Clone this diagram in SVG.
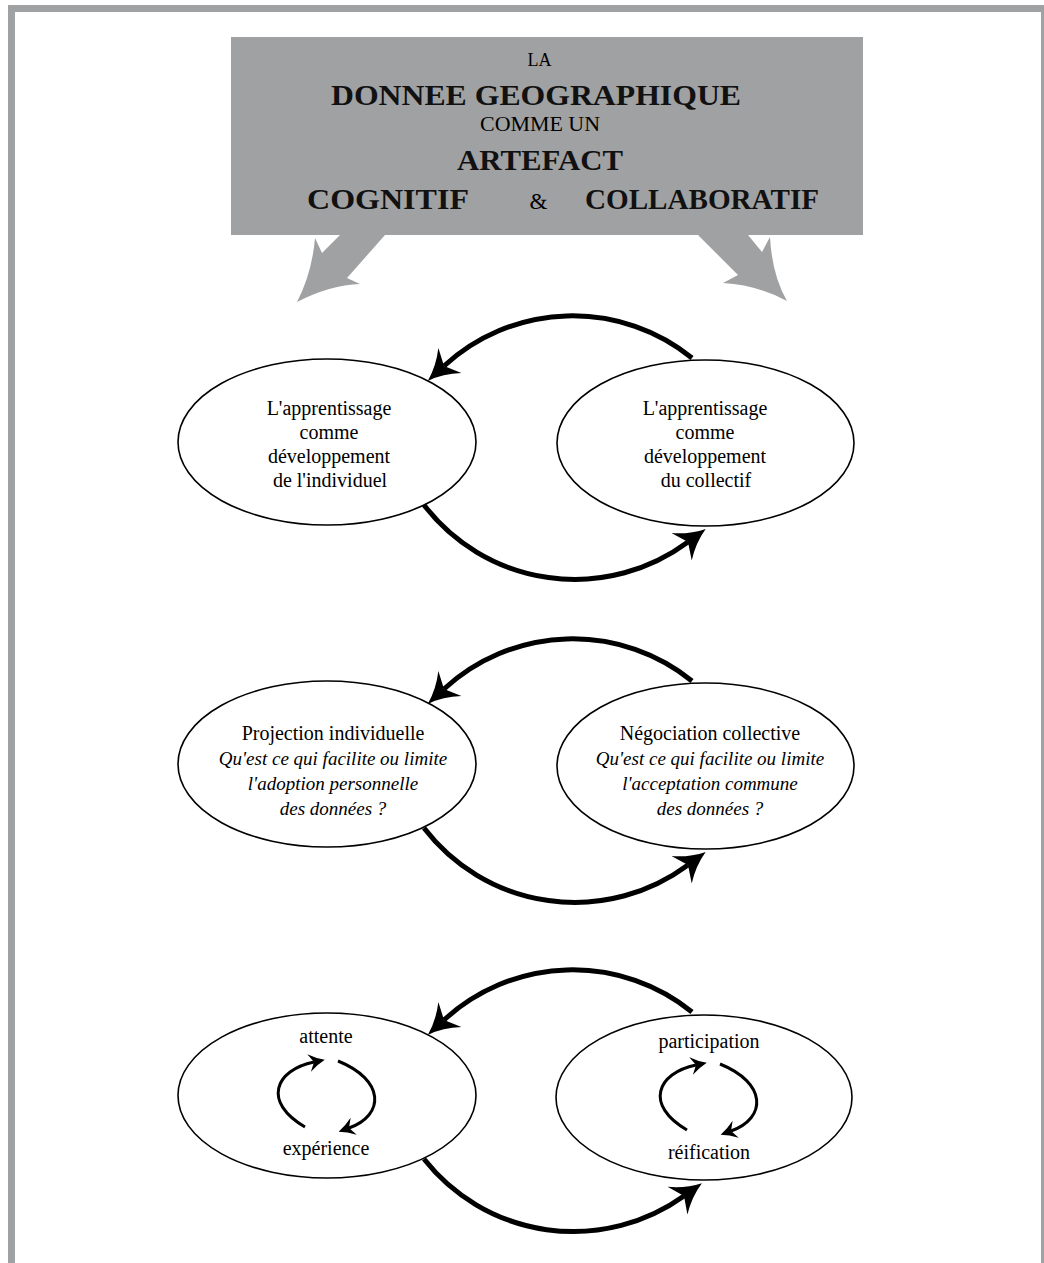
<svg xmlns="http://www.w3.org/2000/svg" width="1044" height="1263" viewBox="0 0 1044 1263">
<defs>
<style>
.frame{fill:none;stroke:#a0a1a3;stroke-width:7}
.box{fill:#a0a1a3}
.garrow{fill:#a0a1a3}
.t{font-family:"Liberation Serif","Times New Roman",serif;fill:#000}
.tb{font-family:"Liberation Serif","Times New Roman",serif;font-weight:bold;fill:#111}
.node ellipse{fill:#fff;stroke:#000;stroke-width:1.6}
.node text{font-family:"Liberation Serif","Times New Roman",serif;font-size:20px;fill:#000;text-anchor:middle}
.node text.i{font-style:italic;font-size:19px}
.big{fill:none;stroke:#000;stroke-width:5;marker-end:url(#mbig)}
.small{fill:none;stroke:#000;stroke-width:3;marker-end:url(#msmall)}
</style>
<marker id="mbig" markerUnits="userSpaceOnUse" viewBox="0 -18 31 36" markerWidth="31" markerHeight="36" refX="8" refY="0" orient="auto">
<path d="M30,0 Q14,-5 0,-17 L8,0 L0,17 Q14,5 30,0 Z" fill="#000"/>
</marker>
<marker id="msmall" markerUnits="userSpaceOnUse" viewBox="0 -10 17 20" markerWidth="17" markerHeight="20" refX="5" refY="0" orient="auto">
<path d="M16,0 Q8,-3 0,-9 L5,0 L0,9 Q8,3 16,0 Z" fill="#000"/>
</marker>
</defs>
<rect width="1044" height="1263" fill="#fff"/>
<rect class="frame" x="11.5" y="8.5" width="1033" height="1300"/>

<g id="title">
<rect class="box" x="231" y="37" width="632" height="198"/>
<path class="garrow" d="M340,235 L322,253 L315,238 Q312,273 297,302 Q330,285 360,284 L347,278 L385,235 Z"/>
<path class="garrow" d="M698,235 L738,275 L723,283 Q757,285 787,301 Q772,275 770,237 L762,252 L748,235 Z"/>
<text class="t" x="539.5" y="66" font-size="18" text-anchor="middle">LA</text>
<text class="tb" x="331" y="105" font-size="29" textLength="410" lengthAdjust="spacingAndGlyphs">DONNEE GEOGRAPHIQUE</text>
<text class="t" x="480" y="131" font-size="20" textLength="120" lengthAdjust="spacingAndGlyphs">COMME UN</text>
<text class="tb" x="457" y="170" font-size="29" textLength="166" lengthAdjust="spacingAndGlyphs">ARTEFACT</text>
<text class="tb" x="307" y="209" font-size="29" textLength="162" lengthAdjust="spacingAndGlyphs">COGNITIF</text>
<text class="t" x="538.5" y="209" font-size="23" text-anchor="middle">&amp;</text>
<text class="tb" x="585" y="209" font-size="29" textLength="234" lengthAdjust="spacingAndGlyphs">COLLABORATIF</text>
</g>

<g id="n-individuel" class="node">
<ellipse cx="327" cy="442" rx="149" ry="83"/>
<text x="329" y="415">L'apprentissage</text>
<text x="329" y="439">comme</text>
<text x="329" y="463">développement</text>
<text x="330" y="487">de l'individuel</text>
</g>
<g id="n-collectif" class="node">
<ellipse cx="705.5" cy="443" rx="148.5" ry="83"/>
<text x="705" y="415">L'apprentissage</text>
<text x="705" y="439">comme</text>
<text x="705" y="463">développement</text>
<text x="706" y="487">du collectif</text>
</g>

<g id="n-projection" class="node">
<ellipse cx="327" cy="764" rx="149" ry="83"/>
<text x="333" y="740">Projection individuelle</text>
<text class="i" x="333" y="765">Qu'est ce qui facilite ou limite</text>
<text class="i" x="333" y="790">l'adoption personnelle</text>
<text class="i" x="333" y="815">des données ?</text>
</g>
<g id="n-negociation" class="node">
<ellipse cx="705.5" cy="766" rx="148.5" ry="83"/>
<text x="710" y="740">Négociation collective</text>
<text class="i" x="710" y="765">Qu'est ce qui facilite ou limite</text>
<text class="i" x="710" y="790">l'acceptation commune</text>
<text class="i" x="710" y="815">des données ?</text>
</g>

<g id="n-attente" class="node">
<ellipse cx="327" cy="1095.5" rx="149" ry="82.5"/>
<text x="326" y="1043">attente</text>
<text x="326" y="1155">expérience</text>
</g>
<g id="n-participation" class="node">
<ellipse cx="704" cy="1097.5" rx="148" ry="82.5"/>
<text x="709" y="1048">participation</text>
<text x="709" y="1159">réification</text>
</g>

<g id="connectors">
<path class="big" d="M692,358 A190,190 0 0 0 444,366"/>
<path class="big" d="M424,505 A190,190 0 0 0 688,542"/>
<path class="big" d="M692,681 A190,190 0 0 0 444,689"/>
<path class="big" d="M424,828 A190,190 0 0 0 688,865"/>
<path class="big" d="M692,1012 A190,190 0 0 0 444,1020"/>
<path class="big" d="M424,1159 A190,190 0 0 0 684,1196"/>
<path class="small" d="M305,1127 C262,1102 275,1070 314,1062"/>
<path class="small" d="M338,1061 C385,1080 385,1115 349,1128"/>
<path class="small" d="M687,1130 C644,1105 657,1073 696,1065"/>
<path class="small" d="M720,1064 C767,1083 767,1118 731,1131"/>
</g>
</svg>
